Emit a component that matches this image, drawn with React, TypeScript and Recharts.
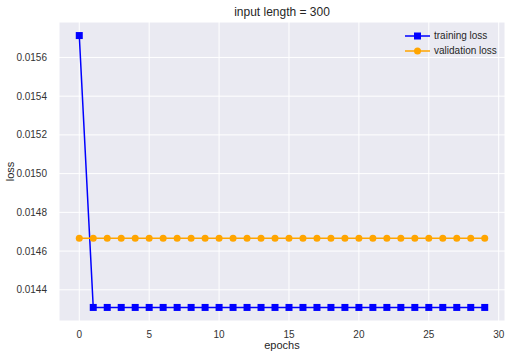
import { LineChart, Line, XAxis, YAxis, CartesianGrid } from 'recharts';

const epochs = [0, 1, 2, 3, 4, 5, 6, 7, 8, 9, 10, 11, 12, 13, 14, 15, 16, 17, 18, 19, 20, 21, 22, 23, 24, 25, 26, 27, 28, 29];
const trainingLoss = [
    0.015713, 0.014309, 0.014309, 0.014309, 0.014309, 0.014309, 0.014309, 0.014309, 0.014309, 0.014309,
    0.014309, 0.014309, 0.014309, 0.014309, 0.014309, 0.014309, 0.014309, 0.014309, 0.014309, 0.014309,
    0.014309, 0.014309, 0.014309, 0.014309, 0.014309, 0.014309, 0.014309, 0.014309, 0.014309, 0.014309,
];
const validationLoss = [
    0.014666, 0.014666, 0.014666, 0.014666, 0.014666, 0.014666, 0.014666, 0.014666, 0.014666, 0.014666,
    0.014666, 0.014666, 0.014666, 0.014666, 0.014666, 0.014666, 0.014666, 0.014666, 0.014666, 0.014666,
    0.014666, 0.014666, 0.014666, 0.014666, 0.014666, 0.014666, 0.014666, 0.014666, 0.014666, 0.014666,
];
const xTicks = [0, 5, 10, 15, 20, 25, 30];
const yTicks = [0.0144, 0.0146, 0.0148, 0.015, 0.0152, 0.0154, 0.0156];

const data = epochs.map((e, i) => ({ epoch: e, train: trainingLoss[i], val: validationLoss[i] }));

const font = '"Liberation Sans", Arial, sans-serif';

const SquareDot = (props: any) => {
    const { cx, cy, key } = props;
    if (cx == null || cy == null) return null;
    return <rect key={key} x={cx - 3.5} y={cy - 3.5} width={7} height={7} fill="#0000ff" />;
};

const LegendBox = () => (
    <div style={{ position: 'absolute', left: 405, top: 28, fontFamily: font, fontSize: 10, color: '#262626', lineHeight: '15px' }}>
        <div style={{ display: 'flex', alignItems: 'center' }}>
            <svg width={28} height={10}>
                <line x1={0} y1={5} x2={25} y2={5} stroke="#0000ff" strokeWidth={1.5} />
                <rect x={9} y={1.5} width={7} height={7} fill="#0000ff" />
            </svg>
            <span style={{ marginLeft: 1 }}>training loss</span>
        </div>
        <div style={{ display: 'flex', alignItems: 'center' }}>
            <svg width={28} height={10}>
                <line x1={0} y1={5} x2={25} y2={5} stroke="#ffa500" strokeWidth={1.5} />
                <circle cx={12.5} cy={5} r={3.5} fill="#ffa500" />
            </svg>
            <span style={{ marginLeft: 1 }}>validation loss</span>
        </div>
    </div>
);

export default function App() {
    return (
        <div style={{ position: 'absolute', left: 0, top: 0, width: 512, height: 359, background: '#fff' }}>
            <div style={{ position: 'absolute', left: 59, width: 446, top: 5, textAlign: 'center', fontFamily: font, fontSize: 12, color: '#262626' }}>
                input length = 300
            </div>
            <LineChart width={512} height={359} data={data} margin={{ top: 22, right: 7, bottom: 0, left: 0 }}>
                <CartesianGrid fill="#EAEAF2" stroke="#ffffff" strokeWidth={1} />
                <XAxis
                    dataKey="epoch"
                    type="number"
                    domain={[-1.45, 30.45]}
                    ticks={xTicks}
                    allowDataOverflow
                    axisLine={false}
                    tickLine={false}
                    height={38}
                    tick={{ fill: '#333', fontSize: 10, fontFamily: font }}
                    tickMargin={4}
                    label={{ value: 'epochs', position: 'insideBottom', offset: 10, style: { fill: '#262626', fontSize: 11, fontFamily: font } }}
                />
                <YAxis
                    type="number"
                    domain={[0.014239, 0.015783]}
                    ticks={yTicks}
                    allowDataOverflow
                    axisLine={false}
                    tickLine={false}
                    width={59}
                    tick={{ fill: '#333', fontSize: 10, fontFamily: font }}
                    tickMargin={6}
                    tickFormatter={(v: number) => v.toFixed(4)}
                    label={{ value: 'loss', angle: -90, position: 'insideLeft', offset: 10, style: { fill: '#262626', fontSize: 11, fontFamily: font, textAnchor: 'middle' } }}
                />
                <Line dataKey="train" stroke="#0000ff" strokeWidth={1.5} dot={<SquareDot />} activeDot={false} isAnimationActive={false} />
                <Line dataKey="val" stroke="#ffa500" strokeWidth={1.5} dot={{ r: 3.5, fill: '#ffa500', stroke: 'none' }} activeDot={false} isAnimationActive={false} />
            </LineChart>
            <LegendBox />
        </div>
    );
}
